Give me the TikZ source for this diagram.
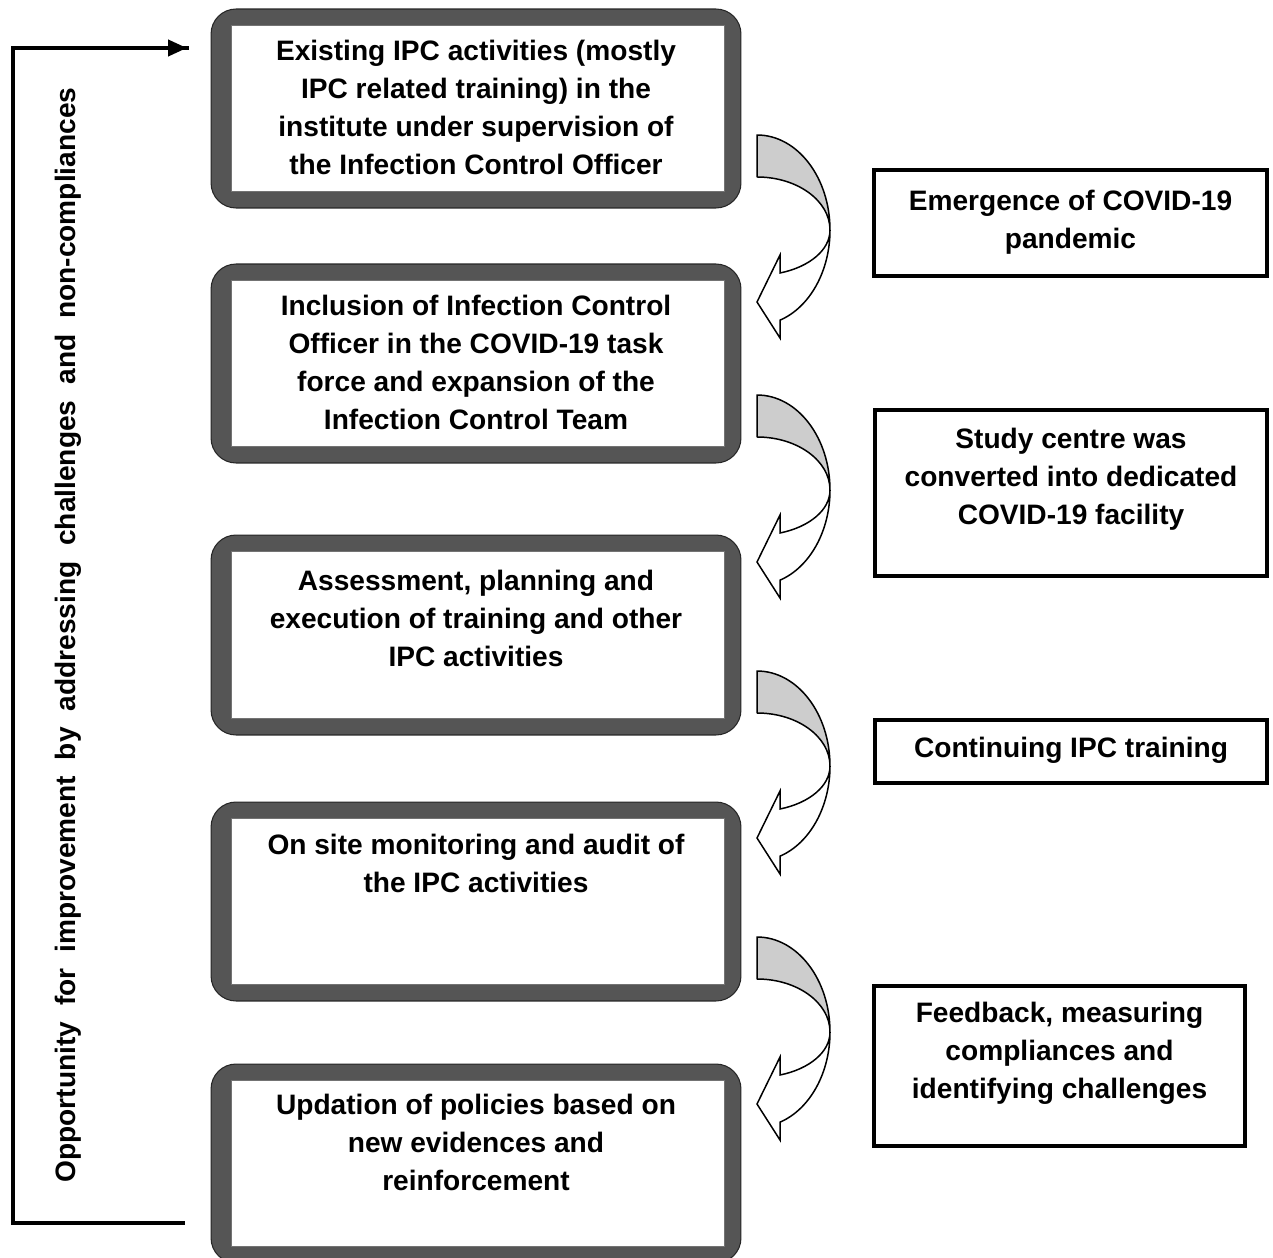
\documentclass[tikz,border=0pt]{standalone}
\usepackage{fontspec}
\setmainfont{Liberation Sans}
\usetikzlibrary{arrows.meta}
\definecolor{boxgray}{RGB}{85,85,85}
\definecolor{arrowgray}{RGB}{205,205,205}
\newcommand\mfs{\fontsize{16}{21.6}\selectfont\bfseries}
\newcommand\rfs{\fontsize{16}{18}\selectfont\bfseries}
\tikzset{
  obox/.style={draw=black!85, fill=boxgray, rounded corners=0.5cm, line width=0.6pt,
    minimum width=10.6cm, minimum height=3.98cm, inner sep=0pt},
  ibox/.style={fill=white, draw=black!55, line width=0.4pt},
  rbox/.style={draw=black, line width=0.08cm, fill=white, inner sep=0pt},
  mtxt/.style={font=\mfs, align=center, inner sep=0pt, anchor=north},
  loopline/.style={line width=0.08cm, line cap=rect},
  bent/.pic={
    \filldraw[fill=arrowgray, draw=black, line width=0.85pt, line join=round]
      (0,0) arc[start angle=90, end angle=0, x radius=1.46cm, y radius=1.9cm]
      arc[start angle=0, end angle=90, x radius=1.46cm, y radius=1.06cm] -- cycle;
    \filldraw[fill=white, draw=black, line width=0.85pt, line join=miter]
      (73,95) arc[start angle=0, end angle=-71.6, x radius=1.46cm, y radius=1.9cm]
      -- (23,203) -- (0,167) -- (23,120) -- (23,138)
      arc[start angle=-71.6, end angle=0, x radius=1.46cm, y radius=0.9cm] -- cycle;
  }
}
\begin{document}
\begin{tikzpicture}[x=0.02cm, y=-0.02cm]
\useasboundingbox (0,0) rectangle (1273,1257);
\clip (0,0) rectangle (1273,1257);

% main boxes
\node[obox] (b1) at (476,108.5) {};
\node[obox] (b2) at (476,363.5) {};
\node[obox, minimum height=4cm] (b3) at (476,635) {};
\node[obox] (b4) at (476,901.5) {};
\node[obox] (b5) at (476,1163.5) {};
\foreach \b in {b1,b2,b3,b4,b5}{
  \draw[ibox] ([shift={(21,17)}]\b.north west) rectangle ([shift={(-17,-17)}]\b.south east);
}

\node[mtxt] (t1) at (476,34) {\strut Existing IPC activities (mostly\\IPC related training) in the\\institute under supervision of\\the Infection Control Officer};
\node[mtxt] (t2) at (476,289) {\strut Inclusion of Infection Control\\Officer in the COVID-19 task\\force and expansion of the\\Infection Control Team};
\node[mtxt] (t3) at (476,564) {\strut Assessment, planning and\\execution of training and other\\IPC activities};
\node[mtxt] (t4) at (476,828) {\strut On site monitoring and audit of\\the IPC activities};
\node[mtxt] (t5) at (476,1088) {\strut Updation of policies based on\\new evidences and\\reinforcement};

% right boxes
\node[rbox, minimum width=7.86cm, minimum height=2.12cm] (r1) at (1070.5,223) {};
\node[rbox, minimum width=7.84cm, minimum height=3.32cm] (r2) at (1071,493) {};
\node[rbox, minimum width=7.84cm, minimum height=1.26cm] (r3) at (1071,751.5) {};
\node[rbox, minimum width=7.42cm, minimum height=3.2cm] (r4) at (1059.5,1066) {};

\node[mtxt] (s1) at (1070.5,183.3) {\strut Emergence of COVID-19\\pandemic};
\node[mtxt] (s2) at (1071,421.3) {\strut Study centre was\\converted into dedicated\\COVID-19 facility};
\node[mtxt] (s3) at (1071,730.3) {\strut Continuing IPC training};
\node[mtxt] (s4) at (1059.5,995.3) {\strut Feedback, measuring\\compliances and\\identifying challenges};

% curved arrows
\pic at (757,135) {bent};
\pic at (757,395) {bent};
\pic at (757,671) {bent};
\pic at (757,937) {bent};

% feedback loop
\coordinate (ls) at (183,1223);
\coordinate (lc1) at (13,1223);
\coordinate (lc2) at (13,48);
\coordinate (le) at (187,48);
\draw[loopline] (ls) -- (lc1) -- (lc2) -- (le);
\draw[line width=0.08cm, -{Triangle[length=0.38cm,width=0.32cm]}] (160,48) -- (le);
\node[rotate=90, anchor=base, font=\rfs, inner sep=0pt] (loop) at (75,635)
  {\makebox[21.9cm][s]{Opportunity for improvement by addressing challenges and non-compliances}};
\end{tikzpicture}
\end{document}
